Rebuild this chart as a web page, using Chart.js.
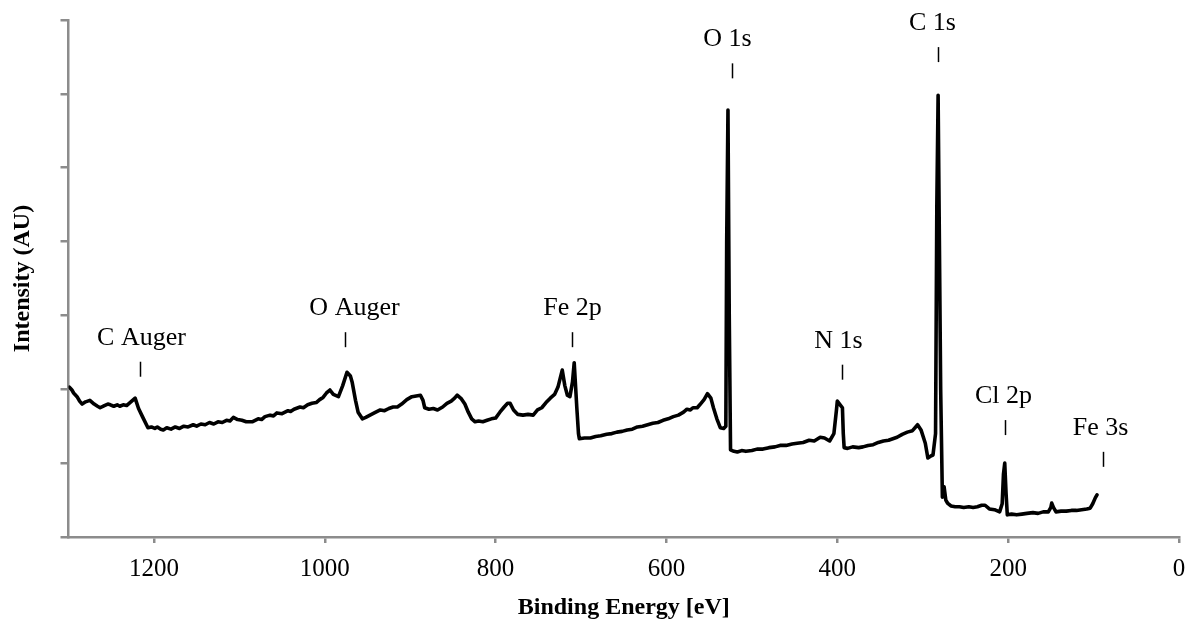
<!DOCTYPE html>
<html>
<head>
<meta charset="utf-8">
<script src="https://cdn.jsdelivr.net/npm/chart.js@4.4.1/dist/chart.umd.min.js"></script>
<style>
  html, body { margin: 0; padding: 0; background: #ffffff; }
  #wrap { width: 1187px; height: 621px; position: relative; }
</style>
</head>
<body>
<div id="wrap"><canvas id="xps"></canvas></div>
<script>
// XPS survey spectrum: binding energy (eV) and intensity (arbitrary units)
const bindingEnergy = [
  1299, 1296, 1294, 1290, 1287, 1284, 1280, 1275, 1270, 1266,
  1263, 1258, 1254, 1251, 1247, 1243, 1240, 1236, 1232, 1228,
  1222, 1218, 1213, 1207, 1203, 1199, 1196, 1192, 1189, 1185,
  1180, 1175, 1170, 1165, 1160, 1154, 1150, 1145, 1140, 1135,
  1130, 1125, 1120, 1115, 1111, 1107, 1102, 1097, 1092, 1085,
  1078, 1074, 1070, 1064, 1060, 1056, 1050, 1043, 1040, 1036,
  1029, 1025, 1020, 1015, 1010, 1006, 1002, 998, 994, 990,
  984, 979, 974, 970, 968, 964, 961, 956, 952, 947,
  942, 935, 930, 925, 920, 915, 910, 904, 898, 893,
  888, 885, 883, 878, 873, 868, 862, 857, 852, 848,
  845, 840, 836, 832, 828, 824, 820, 815, 810, 805,
  800, 795, 790, 786, 783, 779, 774, 768, 762, 756,
  751, 746, 741, 736, 731, 727, 722, 719, 716, 713,
  710, 708, 705, 703, 702, 696, 689, 683, 677, 670,
  664, 658, 652, 646, 640, 634, 628, 622, 616, 610,
  604, 598, 592, 586, 580, 576, 572, 569, 564, 561,
  556, 552, 548, 545, 541, 537, 533, 530.5, 529.5, 528,
  526.5, 525, 521, 517, 512, 507, 500, 494, 487, 480,
  473, 467, 460, 453, 447, 440, 433, 427, 420, 415,
  409, 404, 401, 400, 398, 396, 394, 393, 392, 388,
  382, 375, 370, 364, 358, 352, 346, 340, 335, 330,
  324, 318, 312, 306, 302, 297, 294, 290, 288, 285,
  283.5, 282, 280.5, 279, 277, 275, 273, 271, 267, 262,
  257, 252, 246, 241, 236, 231, 227, 222, 216, 210,
  207, 205.5, 204, 202.5, 201, 196, 190, 184, 178, 171,
  165, 159, 153, 150, 149, 147, 144, 138, 132, 126,
  120, 114, 108, 104, 101, 98, 96
];
const intensity = [
  2.03, 1.99, 1.95, 1.90, 1.84, 1.80, 1.83, 1.85, 1.80, 1.77,
  1.75, 1.78, 1.80, 1.79, 1.77, 1.79, 1.77, 1.79, 1.78, 1.82,
  1.88, 1.74, 1.62, 1.48, 1.49, 1.47, 1.49, 1.46, 1.45, 1.48,
  1.46, 1.49, 1.47, 1.50, 1.49, 1.52, 1.50, 1.53, 1.52, 1.55,
  1.53, 1.56, 1.55, 1.58, 1.57, 1.62, 1.59, 1.58, 1.56, 1.56,
  1.60, 1.59, 1.63, 1.65, 1.64, 1.68, 1.67, 1.71, 1.70, 1.73,
  1.76, 1.75, 1.79, 1.81, 1.82, 1.86, 1.89, 1.95, 1.99, 1.93,
  1.90, 2.05, 2.23, 2.18, 2.10, 1.85, 1.69, 1.60, 1.62, 1.65,
  1.68, 1.72, 1.71, 1.74, 1.76, 1.76, 1.80, 1.86, 1.90, 1.91,
  1.92, 1.85, 1.75, 1.73, 1.74, 1.72, 1.76, 1.81, 1.84, 1.88,
  1.92, 1.87, 1.80, 1.69, 1.60, 1.56, 1.57, 1.56, 1.58, 1.60,
  1.61, 1.69, 1.76, 1.81, 1.81, 1.72, 1.66, 1.65, 1.66, 1.65,
  1.72, 1.75, 1.82, 1.88, 1.93, 2.03, 2.26, 2.05, 1.92, 1.90,
  2.10, 2.36, 1.76, 1.40, 1.33, 1.34, 1.34, 1.36, 1.37, 1.39,
  1.40, 1.42, 1.43, 1.45, 1.46, 1.49, 1.50, 1.52, 1.54, 1.55,
  1.58, 1.60, 1.63, 1.65, 1.69, 1.73, 1.72, 1.75, 1.75, 1.79,
  1.86, 1.94, 1.88, 1.75, 1.60, 1.48, 1.47, 1.50, 4.00, 5.78,
  3.00, 1.18, 1.16, 1.15, 1.17, 1.16, 1.17, 1.19, 1.19, 1.21,
  1.22, 1.24, 1.24, 1.26, 1.27, 1.28, 1.31, 1.30, 1.35, 1.34,
  1.30, 1.40, 1.72, 1.84, 1.81, 1.78, 1.75, 1.40, 1.21, 1.20,
  1.22, 1.21, 1.22, 1.24, 1.25, 1.28, 1.30, 1.31, 1.33, 1.35,
  1.39, 1.42, 1.44, 1.52, 1.45, 1.27, 1.07, 1.10, 1.11, 1.40,
  4.50, 5.98, 4.00, 2.00, 0.54, 0.68, 0.50, 0.46, 0.42, 0.41,
  0.41, 0.40, 0.41, 0.40, 0.41, 0.43, 0.43, 0.38, 0.37, 0.34,
  0.45, 0.85, 1.00, 0.60, 0.30, 0.31, 0.30, 0.31, 0.32, 0.33,
  0.32, 0.34, 0.34, 0.40, 0.46, 0.40, 0.34, 0.35, 0.35, 0.36,
  0.36, 0.37, 0.38, 0.39, 0.45, 0.53, 0.57
];

// Peak assignments: label, marker energy (eV) and marker base height (AU)
const peakNames    = ['C Auger', 'O Auger', 'Fe 2p', 'O 1s', 'N 1s', 'C 1s', 'Cl 2p', 'Fe 3s'];
const peakEnergies = [1216, 976, 710, 523, 394, 282, 204, 89];
const peakLevels   = [2.17, 2.57, 2.57, 6.21, 2.13, 6.43, 1.38, 0.95];

// X axis tick values
const energyTicks = [1200, 1000, 800, 600, 400, 200, 0];

const serif = '"Liberation Serif", "Times New Roman", serif';
const axisGrey = '#8c8c8c';

const spectrum = bindingEnergy.map((e, i) => ({ x: e, y: intensity[i] }));

// Draws each peak name above a short vertical marker
const peakLabels = {
  id: 'peakLabels',
  afterDatasetsDraw(chart, args, opts) {
    const { ctx, scales: { x, y } } = chart;
    const shift = opts.textShift || [];
    ctx.save();
    ctx.font = '26px ' + serif;
    ctx.fillStyle = '#000';
    ctx.strokeStyle = '#000';
    ctx.lineWidth = 1.5;
    ctx.textAlign = 'center';
    ctx.textBaseline = 'middle';
    peakNames.forEach((name, i) => {
      const px = Math.round(x.getPixelForValue(peakEnergies[i])) + 0.5;
      const py = y.getPixelForValue(peakLevels[i]);
      ctx.beginPath();
      ctx.moveTo(px, py);
      ctx.lineTo(px, py - 15);
      ctx.stroke();
      ctx.fillText(name, px + (shift[i] || 0), py - 39);
    });
    ctx.restore();
  }
};

new Chart(document.getElementById('xps'), {
  type: 'line',
  data: {
    datasets: [{
      data: spectrum,
      borderColor: '#000',
      borderWidth: 3.6,
      pointRadius: 0,
      tension: 0,
      fill: false,
      borderJoinStyle: 'round',
      borderCapStyle: 'round'
    }]
  },
  options: {
    responsive: true,
    maintainAspectRatio: false,
    animation: false,
    devicePixelRatio: 1,
    layout: { padding: { top: 20, right: 8, left: 0, bottom: 0 } },
    plugins: {
      legend: { display: false },
      tooltip: { enabled: false },
      peakLabels: { textShift: [1, 9, 0, -5, -4, -6, -2, -3] }
    },
    scales: {
      x: {
        type: 'linear',
        reverse: true,
        min: 0,
        max: 1300,
        afterFit(scale) {
          scale.height = 84;
          scale.paddingLeft = 0;
          scale.paddingRight = 0;
        },
        afterBuildTicks(scale) {
          scale.ticks = energyTicks.map(v => ({ value: v }));
        },
        border: { display: true, color: axisGrey, width: 2.5 },
        grid: { drawOnChartArea: false, drawTicks: true, tickLength: 6, color: axisGrey, lineWidth: 2.5 },
        ticks: {
          color: '#000',
          font: { family: serif, size: 25 },
          padding: 11,
          maxRotation: 0,
          callback: v => String(v)
        },
        title: {
          display: true,
          text: 'Binding Energy [eV]',
          color: '#000',
          font: { family: serif, size: 24, weight: 'bold', lineHeight: 1.0 },
          padding: { top: 0, bottom: 1 }
        }
      },
      y: {
        min: 0,
        max: 7,
        afterFit(scale) {
          scale.width = 68.5;
          scale.paddingTop = 0;
          scale.paddingBottom = 0;
        },
        border: { display: true, color: axisGrey, width: 2.5 },
        grid: { drawOnChartArea: false, drawTicks: true, tickLength: 8, color: axisGrey, lineWidth: 2.5 },
        ticks: { stepSize: 1, callback: () => '' },
        title: {
          display: true,
          text: 'Intensity (AU)',
          color: '#000',
          font: { family: serif, size: 24, weight: 'bold', lineHeight: 1.2 },
          padding: { top: 8, bottom: 0 }
        }
      }
    }
  },
  plugins: [peakLabels]
});
</script>
</body>
</html>
